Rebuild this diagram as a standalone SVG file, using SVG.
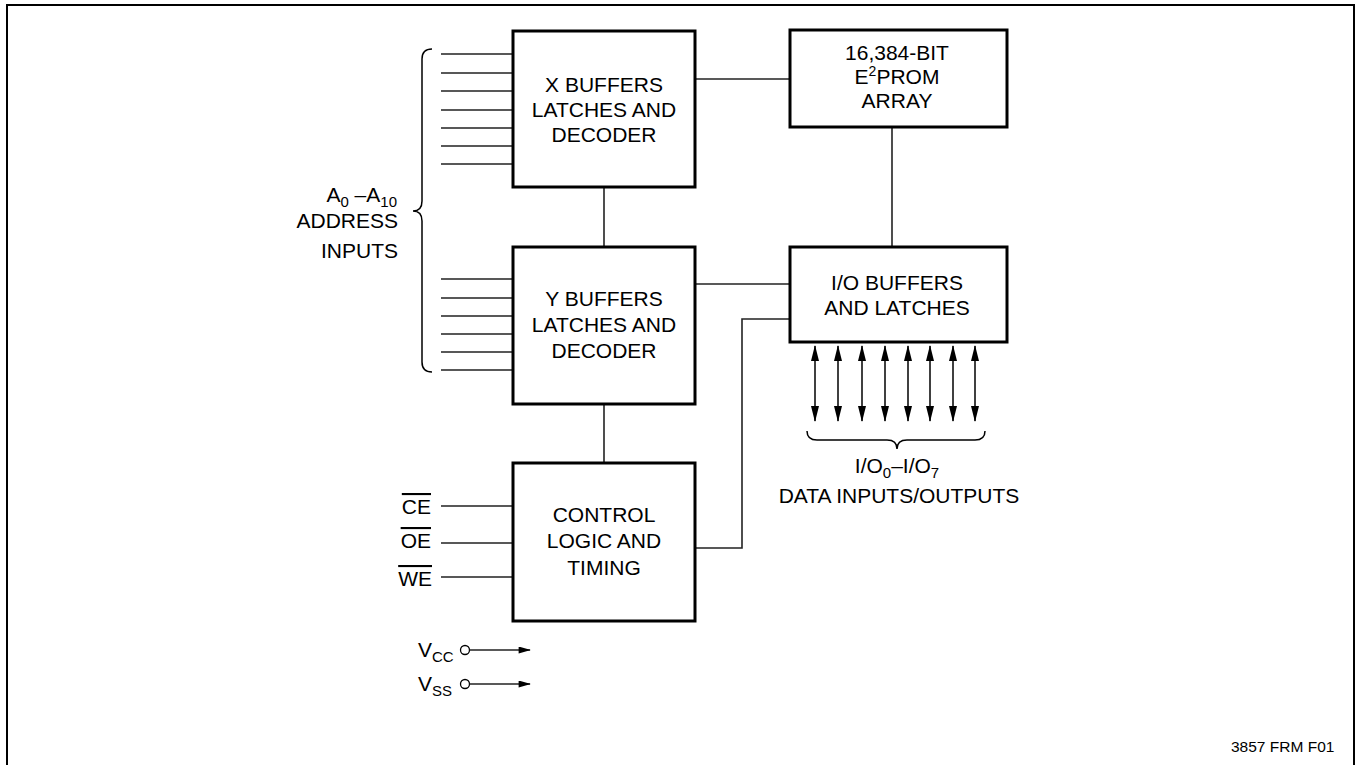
<svg xmlns="http://www.w3.org/2000/svg" width="1357" height="765" viewBox="0 0 1357 765">
<style>
.box{fill:#fff;stroke:#000;stroke-width:3}
.ln{fill:none;stroke:#222;stroke-width:1.6}
.t{font-family:"Liberation Sans",Arial,sans-serif;font-size:21px;fill:#000}
.s{font-family:"Liberation Sans",Arial,sans-serif;font-size:15.5px;fill:#000}
.c{text-anchor:middle}
.r{text-anchor:end}
</style>
<defs>
<marker id="ah" viewBox="0 0 16 8" refX="15" refY="4" markerWidth="16" markerHeight="8" markerUnits="userSpaceOnUse" orient="auto-start-reverse">
<path d="M0,0 L16,4 L0,8 Z" fill="#000"/>
</marker>
<marker id="ahs" viewBox="0 0 14 8" refX="13" refY="4" markerWidth="14" markerHeight="7" markerUnits="userSpaceOnUse" orient="auto">
<path d="M0,0 L14,4 L0,8 Z" fill="#000"/>
</marker>
</defs>
<rect x="0" y="0" width="1357" height="765" fill="#fff"/>
<path d="M7,770 L7,5 L1354,5 L1354,770" fill="none" stroke="#000" stroke-width="2"/>

<g id="connectors">
<path class="ln" d="M695,79 H790"/>
<path class="ln" d="M604,187 V247"/>
<path class="ln" d="M892,127 V247"/>
<path class="ln" d="M695,284 H790"/>
<path class="ln" d="M604,404 V463"/>
<path class="ln" d="M695,548 H742 V319 H790"/>
<g id="addr-x">
<path class="ln" d="M441,54 H513 M441,73 H513 M441,91 H513 M441,110 H513 M441,128 H513 M441,146 H513 M441,164 H513"/>
</g>
<g id="addr-y">
<path class="ln" d="M441,279 H513 M441,298 H513 M441,316 H513 M441,334 H513 M441,352 H513 M441,370 H513"/>
</g>
<path d="M432,49 Q422,49 422,59 L422,201 Q422,211 413,211 Q422,211 422,221 L422,362 Q422,372 432,372" fill="none" stroke="#000" stroke-width="1.5"/>
<path class="ln" d="M441,506 H513 M441,543 H513 M441,577 H513"/>
<g id="io-arrows" stroke="#000" stroke-width="1.5">
<line x1="815" y1="346" x2="815" y2="421" marker-start="url(#ah)" marker-end="url(#ah)"/>
<line x1="838" y1="346" x2="838" y2="421" marker-start="url(#ah)" marker-end="url(#ah)"/>
<line x1="862" y1="346" x2="862" y2="421" marker-start="url(#ah)" marker-end="url(#ah)"/>
<line x1="885" y1="346" x2="885" y2="421" marker-start="url(#ah)" marker-end="url(#ah)"/>
<line x1="908" y1="346" x2="908" y2="421" marker-start="url(#ah)" marker-end="url(#ah)"/>
<line x1="930" y1="346" x2="930" y2="421" marker-start="url(#ah)" marker-end="url(#ah)"/>
<line x1="953" y1="346" x2="953" y2="421" marker-start="url(#ah)" marker-end="url(#ah)"/>
<line x1="975" y1="346" x2="975" y2="421" marker-start="url(#ah)" marker-end="url(#ah)"/>
</g>
<path d="M807,431 Q807,440 817,440 L887,440 Q897,440 897,449 Q897,440 907,440 L975,440 Q985,440 985,431" fill="none" stroke="#000" stroke-width="1.5"/>
<g id="power">
<circle cx="465" cy="650" r="4.5" fill="#fff" stroke="#000" stroke-width="1.3"/>
<line x1="469.5" y1="650" x2="530" y2="650" stroke="#222" stroke-width="1.5" marker-end="url(#ahs)"/>
<circle cx="465" cy="684" r="4.5" fill="#fff" stroke="#000" stroke-width="1.3"/>
<line x1="469.5" y1="684" x2="530" y2="684" stroke="#222" stroke-width="1.5" marker-end="url(#ahs)"/>
</g>
</g>

<g id="x-buffers">
<rect class="box" x="513" y="31" width="182" height="156"/>
<text class="t c" x="604" y="92">X BUFFERS</text>
<text class="t c" x="604" y="117">LATCHES AND</text>
<text class="t c" x="604" y="142">DECODER</text>
</g>
<g id="y-buffers">
<rect class="box" x="513" y="247" width="182" height="157"/>
<text class="t c" x="604" y="306">Y BUFFERS</text>
<text class="t c" x="604" y="332">LATCHES AND</text>
<text class="t c" x="604" y="358">DECODER</text>
</g>
<g id="control">
<rect class="box" x="513" y="463" width="182" height="158"/>
<text class="t c" x="604" y="522">CONTROL</text>
<text class="t c" x="604" y="548">LOGIC AND</text>
<text class="t c" x="604" y="575">TIMING</text>
</g>
<g id="eeprom">
<rect class="box" x="790" y="30" width="217" height="97"/>
<text class="t c" x="897" y="60">16,384-BIT</text>
<text class="t c" x="897" y="84">E<tspan font-size="14" dy="-8">2</tspan><tspan dy="8">PROM</tspan></text>
<text class="t c" x="897" y="108">ARRAY</text>
</g>
<g id="io-buffers">
<rect class="box" x="790" y="247" width="217" height="95"/>
<text class="t c" x="897" y="290">I/O BUFFERS</text>
<text class="t c" x="897" y="315">AND LATCHES</text>
</g>

<g id="labels">
<text class="t r" x="397" y="202">A<tspan font-size="15" dy="5">0</tspan><tspan dy="-5"> –A</tspan><tspan font-size="15" dy="5">10</tspan></text>
<text class="t r" x="398" y="228">ADDRESS</text>
<text class="t r" x="398" y="258">INPUTS</text>
<text class="t c" x="897" y="473">I/O<tspan font-size="15" dy="5">0</tspan><tspan dy="-5">–I/O</tspan><tspan font-size="15" dy="5">7</tspan></text>
<text class="t c" x="899" y="503">DATA INPUTS/OUTPUTS</text>
<text class="t r" x="431" y="514" text-decoration="overline">CE</text>
<text class="t r" x="431" y="548" text-decoration="overline">OE</text>
<text class="t r" x="432" y="586" text-decoration="overline">WE</text>
<text class="t" x="418" y="657">V<tspan font-size="15" dy="5">CC</tspan></text>
<text class="t" x="418" y="691">V<tspan font-size="15" dy="5">SS</tspan></text>
<text class="s" x="1231" y="752">3857 FRM F01</text>
</g>
</svg>
